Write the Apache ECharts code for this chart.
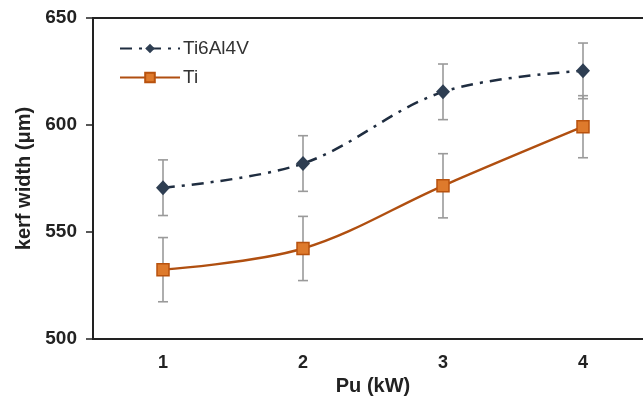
<!DOCTYPE html>
<html><head><meta charset="utf-8">
<script src="https://cdn.jsdelivr.net/npm/echarts@6/dist/echarts.min.js"></script>
<style>html,body{margin:0;padding:0;background:#fff}#c{width:643px;height:400px}</style>
</head><body><div id="c"></div>
<script>
const categories = ['1', '2', '3', '4'];
const ti6al4v = [570.7, 582.0, 615.5, 625.3];
const ti6al4vErr = [13, 13, 13, 13];
const ti = [532.4, 542.3, 571.6, 599.2];
const tiErr = [15, 15, 15, 14.5];
const yTicks = [500, 550, 600, 650];

const FONT = '"Liberation Sans", Arial, sans-serif';
const chart = echarts.init(document.getElementById('c'));

function errSeries(vals, errs) {
  return {
    type: 'custom',
    z: 1,
    silent: true,
    data: vals.map((v, i) => [i, v - errs[i], v + errs[i]]),
    renderItem: function (params, api) {
      const lo = api.coord([api.value(0), api.value(1)]);
      const hi = api.coord([api.value(0), api.value(2)]);
      const w = 5;
      const st = { stroke: '#9a9a9a', lineWidth: 1.6 };
      return {
        type: 'group',
        children: [
          { type: 'line', shape: { x1: lo[0], y1: lo[1], x2: hi[0], y2: hi[1] }, style: st },
          { type: 'line', shape: { x1: lo[0] - w, y1: lo[1], x2: lo[0] + w, y2: lo[1] }, style: st },
          { type: 'line', shape: { x1: hi[0] - w, y1: hi[1], x2: hi[0] + w, y2: hi[1] }, style: st }
        ]
      };
    }
  };
}

chart.setOption({
  animation: false,
  backgroundColor: '#fff',
  textStyle: { fontFamily: FONT },
  grid: { left: 93, top: 18, width: 560, bottom: 61, show: true, borderColor: '#222', borderWidth: 2,
          containLabel: false, outerBoundsMode: 'none' },
  legend: {
    left: 114, top: 34, orient: 'vertical', itemWidth: 60, itemHeight: 12, itemGap: 10,
    textStyle: { fontFamily: FONT, fontSize: 19, color: '#333', padding: [0, 0, 0, -2] },
    data: ['Ti6Al4V', 'Ti']
  },
  xAxis: {
    type: 'category', data: categories, boundaryGap: true,
    name: 'Pu (kW)', nameLocation: 'middle', nameGap: 34,
    nameTextStyle: { fontFamily: FONT, fontSize: 20, fontWeight: 'bold', color: '#222' },
    axisLine: { lineStyle: { color: '#222', width: 2 } },
    axisTick: { alignWithLabel: true, length: 6, lineStyle: { color: '#222', width: 1.5 } },
    axisLabel: { fontFamily: FONT, fontSize: 18, fontWeight: 'bold', color: '#222', margin: 15 },
    splitLine: { show: false }
  },
  yAxis: {
    type: 'value', min: yTicks[0], max: yTicks[yTicks.length - 1], interval: 50,
    name: 'kerf width (μm)', nameLocation: 'middle', nameGap: 55, nameRotate: 90,
    nameTextStyle: { fontFamily: FONT, fontSize: 20, fontWeight: 'bold', color: '#222' },
    axisLine: { show: true, lineStyle: { color: '#222', width: 2 } },
    axisTick: { show: true, inside: false, length: 7, lineStyle: { color: '#222', width: 1.5 } },
    axisLabel: { fontFamily: FONT, fontSize: 19, fontWeight: 'bold', color: '#222', margin: 16 },
    splitLine: { show: false }
  },
  series: [
    errSeries(ti6al4v, ti6al4vErr),
    errSeries(ti, tiErr),
    {
      name: 'Ti6Al4V', type: 'line', data: ti6al4v, smooth: 0.35, z: 3,
      symbol: 'diamond', symbolSize: [14, 15],
      itemStyle: { color: '#2e3e52' },
      lineStyle: { color: '#1f2d40', width: 2.5, type: [12, 7, 3, 7] }
    },
    {
      name: 'Ti', type: 'line', data: ti, smooth: 0.35, z: 3,
      symbol: 'rect', symbolSize: 12,
      itemStyle: { color: '#de7a2c', borderColor: '#b8520e', borderWidth: 1.5 },
      lineStyle: { color: '#b04f10', width: 2.4 }
    }
  ]
});
</script></body></html>
